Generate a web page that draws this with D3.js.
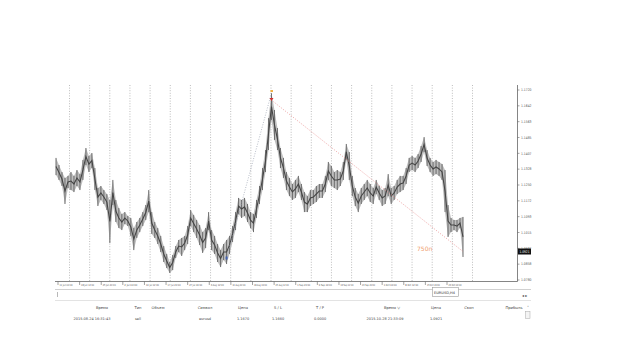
<!DOCTYPE html>
<html><head><meta charset="utf-8">
<script src="https://cdn.jsdelivr.net/npm/d3@7"></script>
<style>body{margin:0;background:#fff}svg{display:block}text{font-family:"DejaVu Sans",Tahoma,sans-serif}</style>
</head><body><svg id="c" width="640" height="360"></svg>
<script>
const highs = [1.1384,1.1349,1.1314,1.1285,1.1295,1.1314,1.1295,1.1324,1.1304,1.1374,
1.1433,1.1393,1.1408,1.1334,1.1235,1.1245,1.1225,1.1205,1.1176,1.1275,
1.1176,1.1136,1.1106,1.1116,1.1097,1.1087,1.1037,1.1067,1.1087,1.1116,
1.1151,1.1225,1.1116,1.1067,1.1037,1.0998,1.0948,1.0909,1.0869,1.0904,
1.0948,1.0978,1.0988,1.0998,1.1047,1.1126,1.1102,1.1077,1.1052,1.1017,
1.1037,1.1116,1.1027,1.0998,1.0958,1.0928,1.0958,1.0978,1.0998,1.1047,
1.1116,1.1186,1.1176,1.1186,1.1156,1.1116,1.1106,1.1176,1.1245,1.1334,
1.1423,1.1581,1.1705,1.1621,1.1532,1.1433,1.1384,1.1314,1.1285,1.1255,
1.1275,1.1295,1.1255,1.1215,1.1195,1.1225,1.1225,1.1245,1.1255,1.1255,
1.1295,1.1364,1.1344,1.1314,1.1324,1.1314,1.1364,1.1453,1.1413,1.1295,
1.1235,1.1205,1.1235,1.1255,1.1275,1.1255,1.1235,1.1275,1.1245,1.1225,
1.1235,1.1304,1.1235,1.1245,1.1275,1.1295,1.1295,1.1334,1.1384,1.1393,
1.1384,1.1403,1.1443,1.1487,1.1423,1.1384,1.1364,1.1374,1.1364,1.1354,
1.1324,1.1151,1.1087,1.1077,1.1077,1.1087,1.1092];
const lows = [1.1299,1.1275,1.1245,1.1156,1.1235,1.1225,1.1215,1.1245,1.1225,1.1275,
1.1349,1.1314,1.1334,1.1225,1.1146,1.1176,1.1156,1.1126,1.0963,1.1151,
1.1067,1.1037,1.1027,1.1057,1.1047,1.0998,1.0928,1.0988,1.1017,1.1047,
1.1077,1.1116,1.1008,1.0988,1.0958,1.0918,1.0869,1.0839,1.0815,1.0829,
1.0889,1.0918,1.0899,1.0928,1.0958,1.1047,1.1017,1.0988,1.0953,1.0914,
1.0938,1.1027,1.0928,1.0909,1.0869,1.0844,1.0879,1.0859,1.0909,1.0968,
1.1027,1.1106,1.1087,1.1097,1.1067,1.1037,1.1017,1.1087,1.1156,1.1225,
1.1314,1.1423,1.1572,1.1473,1.1423,1.1334,1.1285,1.1225,1.1195,1.1176,
1.1186,1.1215,1.1176,1.1116,1.1116,1.1146,1.1156,1.1166,1.1186,1.1186,
1.1215,1.1275,1.1245,1.1235,1.1225,1.1245,1.1275,1.1374,1.1275,1.1195,
1.1146,1.1116,1.1156,1.1176,1.1195,1.1166,1.1156,1.1205,1.1176,1.1146,
1.1156,1.1195,1.1156,1.1176,1.1205,1.1215,1.1225,1.1255,1.1314,1.1324,
1.1314,1.1334,1.1364,1.1413,1.1344,1.1314,1.1295,1.1304,1.1295,1.1275,
1.1116,1.0993,1.1017,1.1027,1.1017,1.1037,1.0894];
const priceTicks = ["1.1720","1.1642","1.1563","1.1485","1.1407","1.1328","1.1250","1.1172","1.1093","1.1015","1.0937","1.0858","1.0780"];
const dateLabels = ["11 Jun 04:00","18 Jun 12:00","25 Jun 20:00","2 Jul 04:00","10 Jul 12:00","17 Jul 20:00","27 Jul 04:00","3 Aug 12:00","10 Aug 20:00","18 Aug 04:00","25 Aug 12:00","1 Sep 20:00","9 Sep 04:00","16 Sep 12:00","23 Sep 20:00","1 Oct 04:00","8 Oct 12:00","15 Oct 20:00","23 Oct 04:00"];
const gridCount = 21;
const lastPrice = 1.0921;
// trade (sell) : open bar / price, close bar / price
const tradeBars = [72, 136];
const tradePrices = [1.1670, 1.0921];
// trend line drawn from the low to the August spike
const trendBars = [57, 72];
const trendPrices = [1.0889, 1.1705];
const pipsText = "750п";
const symbolTab = "EURUSD,H4";
const tableHeader = ["Время","Тип","Объем","Символ","Цена","S / L","T / P","Время  ▽","Цена","Своп","Прибыль"];
const tableRow = ["2015.08.24 16:31:43","sell","","eurusd","1.1670","1.1660","0.0000","2015.10.28 21:33:09","1.0921","",""];

const svg = d3.select("#c");
const x = d3.scaleLinear().domain([0, highs.length - 1]).range([56, 463]);
const y = d3.scaleLinear().domain([1.0780, 1.1720]).range([280, 90]);
const yTick = d3.scalePoint().domain(priceTicks).range([90, 280]);
const gx = d3.scaleLinear().domain([0, gridCount - 1]).range([69, 472]);
const dx = d3.scalePoint().domain(dateLabels).range([58, 447]);

// grid
svg.append("g").selectAll("line").data(d3.range(gridCount)).join("line")
  .attr("x1", d => gx(d) + 0.5).attr("x2", d => gx(d) + 0.5)
  .attr("y1", 85).attr("y2", 281)
  .attr("stroke", "#a0a0a0").attr("stroke-width", 0.7).attr("stroke-dasharray", "1,1.6");

// price bars
const idx = d3.range(highs.length);
svg.append("path").datum(idx)
  .attr("d", d3.area().x(i => x(i)).y0(i => y(lows[i])).y1(i => y(highs[i])))
  .attr("fill", "#bebebe");
svg.append("g").selectAll("line").data(idx).join("line")
  .attr("x1", i => x(i)).attr("x2", i => x(i))
  .attr("y1", i => y(highs[i])).attr("y2", i => y(lows[i]))
  .attr("stroke", "#6c6c6c").attr("stroke-width", 1);
svg.append("path").datum(idx)
  .attr("d", d3.line().x(i => x(i)).y(i => (y(highs[i]) + y(lows[i])) / 2))
  .attr("fill", "none").attr("stroke", "#454545").attr("stroke-width", 1.1);

// trend line (gray dotted)
svg.append("line")
  .attr("x1", x(trendBars[0])).attr("y1", y(trendPrices[0]))
  .attr("x2", x(trendBars[1])).attr("y2", y(trendPrices[1]))
  .attr("stroke", "#9aa0b0").attr("stroke-width", 0.7).attr("stroke-dasharray", "1,1.5");
svg.append("rect").attr("x", x(trendBars[0]) - 1).attr("y", y(trendPrices[0]) - 1.5)
  .attr("width", 2).attr("height", 3).attr("fill", "#4060b0");

// trade line (red dotted)
svg.append("line")
  .attr("x1", x(tradeBars[0])).attr("y1", y(tradePrices[0]))
  .attr("x2", x(tradeBars[1])).attr("y2", y(tradePrices[1]))
  .attr("stroke", "#e89090").attr("stroke-width", 0.8).attr("stroke-dasharray", "1,1.5");
svg.append("path")
  .attr("d", `M${x(tradeBars[0]) - 2},${y(tradePrices[0]) - 2}L${x(tradeBars[0]) + 2},${y(tradePrices[0]) - 2}L${x(tradeBars[0])},${y(tradePrices[0]) + 1}Z`)
  .attr("fill", "#d03030");
svg.append("rect").attr("x", x(tradeBars[0]) - 1).attr("y", y(highs[72]) - 3)
  .attr("width", 2.5).attr("height", 2).attr("fill", "#f0b040");

svg.append("text").attr("x", 417).attr("y", 251).attr("font-size", 6).attr("fill", "#f0a070")
  .text(pipsText);

// axes
svg.append("line").attr("x1", 517.5).attr("x2", 517.5).attr("y1", 85).attr("y2", 281.5)
  .attr("stroke", "#666").attr("stroke-width", 0.8);
svg.append("line").attr("x1", 55).attr("x2", 517.5).attr("y1", 281.5).attr("y2", 281.5)
  .attr("stroke", "#666").attr("stroke-width", 0.8);
const yt = svg.append("g").selectAll("g").data(priceTicks).join("g")
  .attr("transform", d => `translate(517.5,${yTick(d)})`);
yt.append("line").attr("x1", 0).attr("x2", 2).attr("stroke", "#666").attr("stroke-width", 0.6);
yt.append("text").attr("x", 3.5).attr("dy", "0.35em").attr("font-size", 3.6)
  .attr("textLength", 10.5).attr("lengthAdjust", "spacingAndGlyphs").attr("fill", "#555").text(d => d);

// last price box
svg.append("rect").attr("x", 518).attr("y", y(lastPrice) - 3).attr("width", 13).attr("height", 6).attr("fill", "#111");
svg.append("text").attr("x", 519.5).attr("y", y(lastPrice)).attr("dy", "0.35em").attr("font-size", 3.6)
  .attr("textLength", 10).attr("lengthAdjust", "spacingAndGlyphs").attr("fill", "#fff").text(lastPrice.toFixed(4));

// date labels
const xt = svg.append("g").selectAll("g").data(dateLabels).join("g")
  .attr("transform", d => `translate(${dx(d)},281.5)`);
xt.append("line").attr("y1", 0).attr("y2", 3.5).attr("stroke", "#666").attr("stroke-width", 0.6);
xt.append("text").attr("x", 1.5).attr("y", 4.2).attr("font-size", 2.8)
  .attr("textLength", 13).attr("lengthAdjust", "spacingAndGlyphs").attr("fill", "#555").text(d => d);

// terminal panel
svg.append("line").attr("x1", 55).attr("x2", 531).attr("y1", 289.5).attr("y2", 289.5).attr("stroke", "#b0b0b0").attr("stroke-width", 0.6);
svg.append("line").attr("x1", 55).attr("x2", 531).attr("y1", 300.5).attr("y2", 300.5).attr("stroke", "#d0d0d0").attr("stroke-width", 0.6);
svg.append("line").attr("x1", 57.5).attr("x2", 57.5).attr("y1", 292).attr("y2", 297).attr("stroke", "#888").attr("stroke-width", 0.6);
svg.append("rect").attr("x", 432.5).attr("y", 287.5).attr("width", 26).attr("height", 9).attr("fill", "#fff").attr("stroke", "#999").attr("stroke-width", 0.6);
svg.append("text").attr("x", 434).attr("y", 293.5).attr("font-size", 3.4).attr("textLength", 21)
  .attr("lengthAdjust", "spacingAndGlyphs").attr("fill", "#333").text(symbolTab);
svg.append("text").attr("x", 522).attr("y", 297).attr("font-size", 4).attr("fill", "#444").text("◂ ▸");

const colX = [102, 138, 158, 205, 243, 278, 320, 392, 436, 469, 514];
svg.append("g").selectAll("text").data(tableHeader).join("text")
  .attr("x", (d, i) => colX[i]).attr("y", 309).attr("text-anchor", "middle")
  .attr("font-size", 3.7).attr("fill", "#444").text(d => d);
svg.append("g").selectAll("text").data(tableRow).join("text")
  .attr("x", (d, i) => i === 0 ? 92 : i === 7 ? 385 : colX[i]).attr("y", 320).attr("text-anchor", "middle")
  .attr("font-size", 3.5).attr("fill", "#444").text(d => d);
svg.append("text").attr("x", 527).attr("y", 309).attr("font-size", 4).attr("fill", "#444").text("˄");
svg.append("rect").attr("x", 525.5).attr("y", 311.5).attr("width", 4.5).attr("height", 7).attr("fill", "#f4f4f4").attr("stroke", "#aaa").attr("stroke-width", 0.5);
</script></body></html>
